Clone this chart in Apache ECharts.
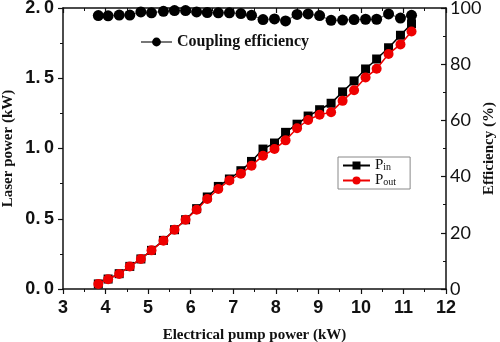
<!DOCTYPE html>
<html>
<head>
<meta charset="utf-8">
<script src="https://cdn.jsdelivr.net/npm/echarts@6/dist/echarts.min.js"></script>
<style>
  html, body { margin: 0; padding: 0; background: #fff; }
  #chart { width: 500px; height: 342px; }
</style>
</head>
<body>
<div id="chart"></div>
<script>
// Electrical pump power (kW)
const pumpPower = [3.83, 4.06, 4.32, 4.57, 4.83, 5.08, 5.36, 5.62, 5.88, 6.14,
  6.39, 6.65, 6.91, 7.18, 7.43, 7.70, 7.97, 8.23, 8.50, 8.76,
  9.03, 9.30, 9.57, 9.84, 10.11, 10.37, 10.65, 10.93, 11.19];

// Laser power coupled in (kW)
const powerIn = [0.036, 0.071, 0.109, 0.161, 0.214, 0.275, 0.346, 0.422, 0.493, 0.572,
  0.655, 0.730, 0.783, 0.842, 0.908, 0.996, 1.039, 1.115, 1.173, 1.231,
  1.276, 1.322, 1.403, 1.481, 1.566, 1.637, 1.717, 1.806, 1.888];

// Laser power out (kW)
const powerOut = [0.036, 0.070, 0.107, 0.161, 0.214, 0.275, 0.344, 0.422, 0.493, 0.564,
  0.641, 0.712, 0.773, 0.821, 0.878, 0.949, 0.996, 1.058, 1.144, 1.203,
  1.241, 1.258, 1.339, 1.414, 1.505, 1.567, 1.673, 1.741, 1.833];

// Coupling efficiency (%)
const couplingEff = [97.3, 97.2, 97.5, 97.5, 98.6, 98.3, 98.8, 99.1, 99.1, 98.6,
  98.4, 98.3, 98.3, 98.0, 97.4, 95.9, 96.1, 95.4, 97.7, 97.9,
  97.3, 95.6, 95.7, 95.9, 96.0, 96.0, 97.9, 96.4, 97.4];

const pairs = ys => pumpPower.map((x, i) => [x, ys[i]]);

const serif = 'Liberation Serif';
const sans = 'Liberation Sans';

const chart = echarts.init(document.getElementById('chart'), null, { renderer: 'canvas' });

chart.setOption({
  animation: false,
  backgroundColor: '#fff',
  grid: { left: 63, right: 54, top: 8, bottom: 53, outerBoundsMode: 'none', containLabel: false },
  legend: [
    {
      data: ['Coupling efficiency'],
      left: 135, top: 29,
      itemWidth: 31, itemHeight: 11, itemGap: 4,
      textStyle: { fontFamily: serif, fontWeight: 'bold', fontSize: 16, color: '#111' }
    },
    {
      data: ['Pin', 'Pout'],
      orient: 'vertical',
      left: 338, top: 157,
      borderColor: '#888', borderWidth: 1,
      padding: [1, 14, 1, 4],
      itemWidth: 27, itemHeight: 10, itemGap: 0,
      formatter: name => '{p|P}{s|' + name.slice(1) + '}',
      textStyle: {
        color: '#111',
        rich: {
          p: { fontFamily: serif, fontSize: 15, lineHeight: 12, color: '#111' },
          s: { fontFamily: serif, fontSize: 10, lineHeight: 10, color: '#111', padding: [4, 0, 0, 0] }
        }
      }
    }
  ],
  xAxis: [
    {
      type: 'value', min: 3, max: 12, interval: 1,
      name: 'Electrical pump power (kW)',
      nameLocation: 'middle', nameGap: 39, nameMoveOverlap: false,
      nameTextStyle: { fontFamily: serif, fontWeight: 'bold', fontSize: 15, color: '#111' },
      axisLine: { onZero: false, lineStyle: { color: '#111', width: 1.5 } },
      axisTick: { length: 5, lineStyle: { color: '#111', width: 1.2 } },
      minorTick: { show: true, splitNumber: 2, length: 3, lineStyle: { color: '#111', width: 1 } },
      axisLabel: { margin: 10, fontFamily: sans, fontWeight: 'bold', fontSize: 18, color: '#111' },
      splitLine: { show: false }
    },
    {
      type: 'value', min: 3, max: 12, interval: 1, position: 'top',
      axisLine: { onZero: false, lineStyle: { color: '#111', width: 1.5 } },
      axisTick: { inside: true, length: 5, lineStyle: { color: '#111', width: 1.2 } },
      minorTick: { show: true, splitNumber: 2, length: 3, lineStyle: { color: '#111', width: 1 } },
      axisLabel: { show: false },
      splitLine: { show: false }
    }
  ],
  yAxis: [
    {
      type: 'value', min: 0, max: 2, interval: 0.5, position: 'left',
      name: 'Laser power (kW)',
      nameLocation: 'middle', nameGap: 47, nameRotate: 90, nameMoveOverlap: false,
      nameTextStyle: { fontFamily: serif, fontWeight: 'bold', fontSize: 15, color: '#111' },
      axisLine: { show: true, onZero: false, lineStyle: { color: '#111', width: 1.5 } },
      axisTick: { show: true, length: 5, lineStyle: { color: '#111', width: 1.2 } },
      minorTick: { show: true, splitNumber: 2, length: 3, lineStyle: { color: '#111', width: 1 } },
      axisLabel: {
        margin: 9, align: 'right', fontFamily: sans, fontWeight: 'bold', fontSize: 18, color: '#111',
        formatter: v => v.toFixed(1).replace('.', '.\u2009')
      },
      splitLine: { show: false }
    },
    {
      type: 'value', min: 0, max: 100, interval: 20, position: 'right',
      name: 'Efficiency (%)',
      nameLocation: 'middle', nameGap: 36, nameRotate: 90, nameMoveOverlap: false,
      nameTextStyle: { fontFamily: serif, fontWeight: 'bold', fontSize: 15, color: '#111' },
      axisLine: { show: true, onZero: false, lineStyle: { color: '#111', width: 1.5 } },
      axisTick: { show: true, inside: true, length: 5, lineStyle: { color: '#111', width: 1.2 } },
      minorTick: { show: true, splitNumber: 2, length: 3, lineStyle: { color: '#111', width: 1 } },
      axisLabel: { margin: 4, fontFamily: 'Lato', fontSize: 18, color: '#111' },
      splitLine: { show: false }
    }
  ],
  series: [
    {
      name: 'Pin', type: 'line', xAxisIndex: 0, yAxisIndex: 0,
      data: pairs(powerIn),
      symbol: 'rect', symbolSize: 9,
      itemStyle: { color: '#000' },
      lineStyle: { color: '#000', width: 1.5 },
      z: 3
    },
    {
      name: 'Pout', type: 'line', xAxisIndex: 0, yAxisIndex: 0,
      data: pairs(powerOut),
      symbol: 'circle', symbolSize: 10,
      itemStyle: { color: '#ee0000' },
      lineStyle: { color: '#ee0000', width: 1.5 },
      z: 4
    },
    {
      name: 'Coupling efficiency', type: 'line', xAxisIndex: 0, yAxisIndex: 1,
      data: pairs(couplingEff),
      symbol: 'circle', symbolSize: 11,
      itemStyle: { color: '#000' },
      lineStyle: { color: '#777', width: 1.2 },
      z: 5
    }
  ]
});
</script>
</body>
</html>
